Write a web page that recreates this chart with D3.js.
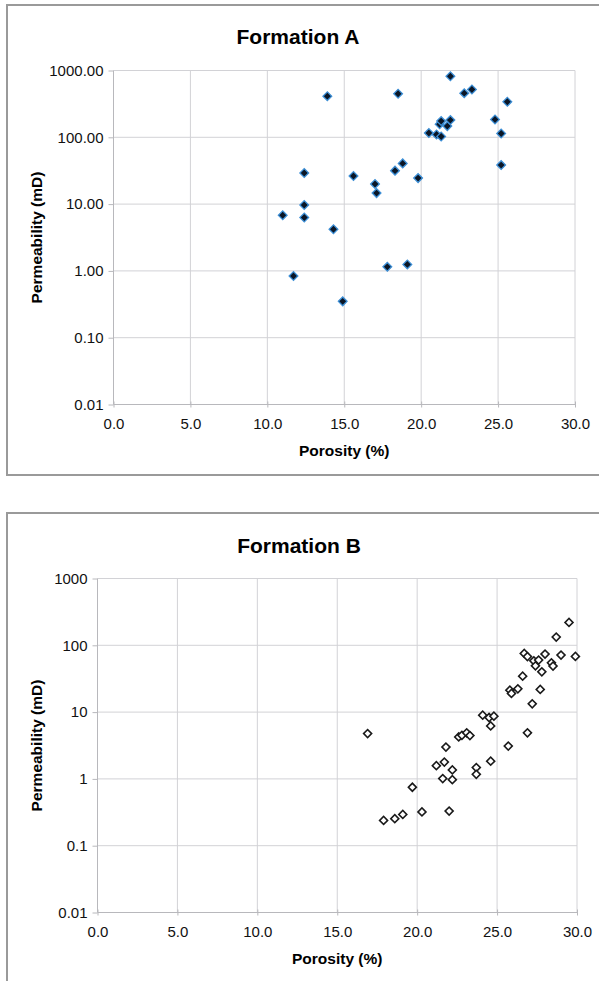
<!DOCTYPE html>
<html lang="en">
<head>
    <meta charset="UTF-8">
    <title>Formation A / Formation B</title>
    <script src="https://d3js.org/d3.v7.min.js"></script>
    <style>
        body {
            margin: 0;
            background: #fff;
            font-family: "Liberation Sans", Arial, sans-serif;
        }
        svg { display: block; }
        .grid line { stroke: #d2d2d6; stroke-width: 1; }
        .axis path, .axis line { stroke: #b8b8bc; }
        .axis text { fill: #111; font-size: 15px; font-family: "Liberation Sans", Arial, sans-serif; }
        .title { font-size: 21px; font-weight: bold; fill: #000; }
        .axis-title { font-size: 15.5px; font-weight: bold; fill: #000; }
    </style>
</head>
<body>
    <svg id="chart"></svg>

    <script>
        const width = 599;
        const height = 981;

        // Formation A: porosity (%) and permeability (mD)
        const porosityA = [13.9, 18.5, 21.9, 22.8, 23.3, 25.6, 24.8, 25.2, 25.2, 20.5,
                           21.0, 21.3, 21.2, 21.3, 21.7, 21.9, 12.4, 15.6, 17.0, 17.1,
                           18.3, 18.8, 19.8, 12.4, 11.0, 12.4, 14.3, 17.8, 19.1, 11.7, 14.9];
        const permA = [413, 449, 822, 458, 520, 340, 185, 114, 38.4, 116,
                       110, 103, 157, 175, 147, 181, 29.2, 26.3, 20, 14.6,
                       31.7, 40.7, 24.5, 9.7, 6.8, 6.3, 4.2, 1.15, 1.25, 0.84, 0.35];

        // Formation B
        const porosityB = [29.5, 28.7, 26.7, 26.9, 28.0, 29.0, 29.9, 27.3, 27.6, 27.4,
                           27.8, 28.4, 28.5, 26.6, 25.8, 25.9, 26.3, 27.7, 27.2, 24.1,
                           24.5, 24.8, 24.6, 16.9, 22.6, 22.8, 23.1, 23.3, 26.9, 21.8,
                           25.7, 21.2, 21.7, 22.2, 21.6, 22.2, 23.7, 23.7, 24.6, 19.7,
                           20.3, 22.0, 17.9, 18.6, 19.1];
        const permB = [220, 133, 75.6, 67.8, 73.8, 71.3, 68.2, 58.6, 60, 49.3,
                       40.1, 54.7, 48.8, 34.5, 21.3, 19, 22.3, 21.8, 13.3, 9.0,
                       8.3, 8.7, 6.2, 4.78, 4.25, 4.5, 4.9, 4.46, 4.9, 3.0,
                       3.1, 1.58, 1.79, 1.36, 1.01, 0.975, 1.48, 1.17, 1.84, 0.75,
                       0.32, 0.33, 0.239, 0.254, 0.294];

        const xTicks = [0, 5, 10, 15, 20, 25, 30];
        const yTicks = [0.01, 0.1, 1, 10, 100, 1000];
        const yLabelsA = ["0.01", "0.10", "1.00", "10.00", "100.00", "1000.00"];
        const yLabelsB = ["0.01", "0.1", "1", "10", "100", "1000"];

        const svg = d3.select("#chart")
            .attr("width", width)
            .attr("height", height);

        function drawChart(cfg) {
            const g = svg.append("g");

            // outer frame
            g.append("rect")
                .attr("x", cfg.frame[0])
                .attr("y", cfg.frame[1])
                .attr("width", cfg.frame[2])
                .attr("height", cfg.frame[3])
                .attr("fill", "none")
                .attr("stroke", "#9a9a9a")
                .attr("stroke-width", 2);

            const x = d3.scaleLinear().domain([0, 30]).range([cfg.left, cfg.right]);
            const y = d3.scaleLog().domain([0.01, 1000]).range([cfg.bottom, cfg.top]);

            // gridlines
            g.append("g").attr("class", "grid")
                .selectAll("line.v")
                .data(xTicks.slice(1))
                .join("line")
                .attr("x1", d => x(d)).attr("x2", d => x(d))
                .attr("y1", cfg.top).attr("y2", cfg.bottom);
            g.append("g").attr("class", "grid")
                .selectAll("line.h")
                .data(yTicks.slice(1))
                .join("line")
                .attr("x1", cfg.left).attr("x2", cfg.right)
                .attr("y1", d => y(d)).attr("y2", d => y(d));

            // axes
            const yAxis = d3.axisLeft(y)
                .tickValues(yTicks)
                .tickSize(5)
                .tickPadding(5)
                .tickFormat((d, i) => cfg.yLabels[i]);
            g.append("g").attr("class", "axis")
                .attr("transform", `translate(${cfg.left},0)`)
                .call(yAxis)
                .call(a => a.select(".domain").attr("d", `M0,${cfg.top}V${cfg.bottom}`));

            const xAxis = d3.axisBottom(x)
                .tickValues(xTicks)
                .tickSize(3)
                .tickPadding(11)
                .tickFormat(d3.format(".1f"));
            g.append("g").attr("class", "axis")
                .attr("transform", `translate(0,${cfg.bottom})`)
                .call(xAxis)
                .call(a => a.select(".domain").attr("d", `M${cfg.left},0H${cfg.right}`))
                .call(a => a.selectAll(".tick line").attr("y1", -3));

            // titles
            g.append("text").attr("class", "title")
                .attr("x", cfg.titleX).attr("y", cfg.titleY)
                .attr("text-anchor", "middle")
                .text(cfg.title);
            g.append("text").attr("class", "axis-title")
                .attr("x", (cfg.left + cfg.right) / 2).attr("y", cfg.bottom + 51)
                .attr("text-anchor", "middle")
                .text("Porosity (%)");
            g.append("text").attr("class", "axis-title")
                .attr("transform", `translate(42,${(cfg.top + cfg.bottom) / 2}) rotate(-90)`)
                .attr("text-anchor", "middle")
                .text("Permeability (mD)");

            // points
            const diamond = d3.symbol(d3.symbolSquare, cfg.markerSize);
            g.append("g")
                .selectAll("path")
                .data(cfg.xs.map((v, i) => [v, cfg.ys[i]]))
                .join("path")
                .attr("d", diamond)
                .attr("transform", d => `translate(${x(d[0])},${y(d[1])}) rotate(45)`)
                .attr("fill", cfg.fill)
                .attr("stroke", cfg.stroke)
                .attr("stroke-width", cfg.strokeWidth);
        }

        drawChart({
            title: "Formation A",
            frame: [7, 5, 610, 470],
            left: 113.5, right: 575, top: 70.5, bottom: 404.5,
            titleX: 298, titleY: 44,
            yLabels: yLabelsA,
            xs: porosityA, ys: permA,
            markerSize: 38, fill: "#0b1626", stroke: "#3d8fd6", strokeWidth: 1.3
        });

        drawChart({
            title: "Formation B",
            frame: [7, 513, 610, 490],
            left: 97.5, right: 577, top: 578.5, bottom: 912.5,
            titleX: 299, titleY: 553,
            yLabels: yLabelsB,
            xs: porosityB, ys: permB,
            markerSize: 32, fill: "#fff", stroke: "#1a1a1a", strokeWidth: 1.6
        });
    </script>
</body>
</html>
